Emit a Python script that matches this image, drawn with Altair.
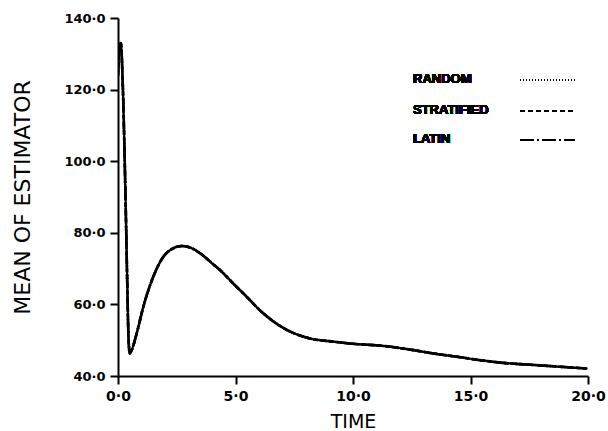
import altair as alt
import pandas as pd

# Values
time = [0.0, 0.05, 0.12, 0.2, 0.3, 0.4, 0.44, 0.5, 0.58, 0.8, 1.08, 1.5, 1.93, 2.3, 2.71,
        3.1, 3.49, 4.0, 4.34, 5.0, 5.33, 6.18, 7.18, 8.17, 9.16, 10.0, 11.29, 12.5,
        13.42, 14.5, 15.55, 16.5, 17.67, 19.0, 19.94]
random_mean = [124, 131, 133, 122, 96, 64, 52, 46.3, 47.2, 52, 59.4, 67.7, 73.3, 75.5, 76.3,
               75.8, 74.3, 71.5, 69.6, 65.2, 63.1, 57.5, 52.9, 50.5, 49.6, 49.0, 48.4, 47.3,
               46.3, 45.3, 44.3, 43.6, 43.1, 42.5, 42.1]
stratified_mean = list(random_mean)
latin_mean = list(random_mean)

series_names = ["RANDOM", "STRATIFIED", "LATIN"]
y_ticks = [40, 60, 80, 100, 120, 140]
x_ticks = [0, 5, 10, 15, 20]

dashes = {"RANDOM": [1, 2], "STRATIFIED": [5, 3], "LATIN": [14, 3, 2, 3]}

rows = []
for name, vals in zip(series_names, [random_mean, stratified_mean, latin_mean]):
    for t, v in zip(time, vals):
        rows.append({"time": t, "mean": v, "series": name})
df = pd.DataFrame(rows)

label_expr = "replace(format(datum.value, '.1f'), '.', '·')"

x_enc = alt.X("time:Q", scale=alt.Scale(domain=[0, 20], nice=False, zero=False),
              axis=alt.Axis(values=x_ticks, labelExpr=label_expr, title="TIME",
                            grid=False, tickSize=8, tickWidth=2, domainWidth=2,
                            domainColor="black", tickColor="black", labelColor="black",
                            labelFont="DejaVu Sans", labelFontWeight="bold", labelFontSize=14,
                            labelPadding=5, titleFont="DejaVu Sans", titleFontWeight="normal",
                            titleFontSize=19, titleColor="black", titlePadding=9,
                            labelFlush=False, labelOverlap=False))
y_enc = alt.Y("mean:Q", scale=alt.Scale(domain=[40, 140], nice=False, zero=False),
              axis=alt.Axis(values=y_ticks, labelExpr=label_expr, title="MEAN OF ESTIMATOR",
                            grid=False, tickSize=8, tickWidth=2, domainWidth=2,
                            domainColor="black", tickColor="black", labelColor="black",
                            labelFont="DejaVu Sans", labelFontWeight="bold", labelFontSize=13,
                            labelPadding=5, titleFont="DejaVu Sans", titleFontWeight="normal",
                            titleFontSize=22, titleColor="black", titlePadding=29,
                            labelFlush=False, labelOverlap=False))

layers = []
for name in series_names:
    layers.append(
        alt.Chart(df[df.series == name]).mark_line(
            color="black", strokeWidth=2.6, strokeDash=dashes[name], interpolate="monotone",
            strokeCap="round" if name == "RANDOM" else "butt", clip=True
        ).encode(x=x_enc, y=y_enc, order="time:Q")
    )

legend_y = [61, 92, 121]
for name, ly in zip(series_names, legend_y):
    layers.append(
        alt.Chart(df).mark_text(text=name, align="left", baseline="middle",
                                font="Liberation Sans", fontWeight="bold", fontSize=13,
                                color="black").encode(x=alt.value(295), y=alt.value(ly))
    )
    layers.append(
        alt.Chart(df).mark_rule(color="black", strokeWidth=1.5 if name != "RANDOM" else 1,
                                strokeDash=dashes[name]).encode(
            x=alt.value(402), x2=alt.value(457), y=alt.value(ly + 1))
    )

chart = alt.layer(*layers).properties(
    width=470, height=358,
    autosize=alt.AutoSizeParams(type="none"),
    padding={"left": 118, "top": 18, "right": 20, "bottom": 55},
    background="white",
).configure_view(stroke=None)

chart.save("out.html", embed_options={"renderer": "svg", "actions": False})
